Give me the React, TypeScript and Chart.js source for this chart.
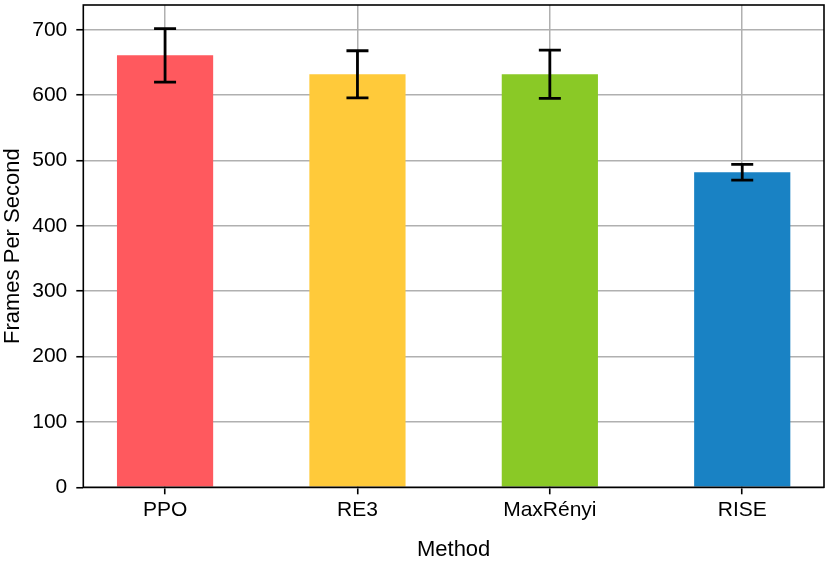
import React, { useEffect, useRef } from "react";
import { Chart, registerables } from "chart.js";

Chart.register(...registerables);

const categories = ["PPO", "RE3", "MaxRényi", "RISE"];
const fps = [661, 632, 632, 482];
const fpsErr = [41, 36, 37, 12];
const barColors = ["#FF595E", "#FFCA3A", "#8AC926", "#1982C4"];
const yTicks = [0, 100, 200, 300, 400, 500, 600, 700];

const FONT = "'Liberation Sans', Arial, Helvetica, sans-serif";
const FS = 21;
const TFS = 22;

const errorBarPlugin = {
  id: "errorBars",
  afterDraw(chart: any) {
    const ctx = chart.ctx;
    const xs = chart.scales.x;
    const ys = chart.scales.y;
    const area = chart.chartArea;
    ctx.save();
    ctx.strokeStyle = "#000";
    ctx.lineWidth = 2.8;
    ctx.lineCap = "butt";
    fps.forEach((v, i) => {
      const x = xs.getPixelForValue(i);
      const yT = ys.getPixelForValue(v + fpsErr[i]);
      const yB = ys.getPixelForValue(v - fpsErr[i]);
      ctx.beginPath();
      ctx.moveTo(x, yT);
      ctx.lineTo(x, yB);
      ctx.moveTo(x - 11, yT);
      ctx.lineTo(x + 11, yT);
      ctx.moveTo(x - 11, yB);
      ctx.lineTo(x + 11, yB);
      ctx.stroke();
    });
    // frame
    ctx.lineWidth = 1.6;
    ctx.strokeRect(area.left, area.top, area.right - area.left, area.bottom - area.top);
    ctx.restore();
  },
};

export default function App() {
  const ref = useRef<HTMLCanvasElement>(null);
  useEffect(() => {
    if (!ref.current) return;
    const chart = new Chart(ref.current, {
      type: "bar",
      data: {
        datasets: [
          {
            data: fps.map((v, i) => ({ x: i, y: v })),
            backgroundColor: barColors,
            borderWidth: 0,
            categoryPercentage: 1,
            barPercentage: 0.5,
          },
        ],
      },
      plugins: [errorBarPlugin],
      options: {
        animation: false,
        responsive: false,
        maintainAspectRatio: false,
        devicePixelRatio: 1,
        layout: { padding: { top: 5, right: 5, left: 0, bottom: 0 } },
        plugins: { legend: { display: false }, tooltip: { enabled: false } },
        scales: {
          x: {
            type: "linear",
            min: -0.425,
            max: 3.425,
            offset: false,
            z: 1,
            afterBuildTicks: (s: any) => {
              s.ticks = categories.map((_, i) => ({ value: i }));
            },
            afterFit: (s: any) => {
              s.height = 78.7;
              s.paddingLeft = 0;
              s.paddingRight = 0;
            },
            ticks: {
              callback: (v: any) => categories[v] ?? "",
              color: "#000",
              font: { family: FONT, size: FS },
              padding: 3,
              maxRotation: 0,
              autoSkip: false,
            },
            grid: {
              offset: false,
              color: "#b0b0b0",
              lineWidth: 1.5,
              tickColor: "#000",
              tickWidth: 1.6,
              tickLength: 7,
            },
            border: { display: false },
            title: {
              display: true,
              text: "Method",
              color: "#000",
              font: { family: FONT, size: TFS },
              padding: { top: 0, bottom: 3 },
            },
          },
          y: {
            type: "linear",
            min: 0,
            max: 738,
            z: 1,
            afterBuildTicks: (s: any) => {
              s.ticks = yTicks.map((v) => ({ value: v }));
            },
            afterFit: (s: any) => {
              s.width = 83.3;
              s.paddingTop = 0;
              s.paddingBottom = 0;
            },
            ticks: {
              color: "#000",
              font: { family: FONT, size: FS },
              padding: 9,
            },
            grid: {
              color: "#b0b0b0",
              lineWidth: 1.5,
              tickColor: "#000",
              tickWidth: 1.6,
              tickLength: 7,
            },
            border: { display: false },
            title: {
              display: true,
              text: "Frames Per Second",
              color: "#000",
              font: { family: FONT, size: TFS },
              padding: { top: 0, bottom: 0 },
            },
          },
        },
      },
    });
    return () => chart.destroy();
  }, []);
  return (
    <div style={{ position: "fixed", left: 0, top: 0, width: 829, height: 566, background: "#fff" }}>
      <canvas ref={ref} width={829} height={566} style={{ width: 829, height: 566 }} />
    </div>
  );
}
